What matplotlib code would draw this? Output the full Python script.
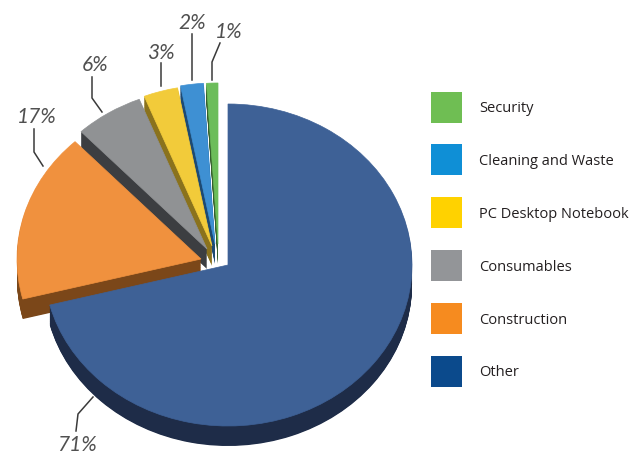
import numpy as np
import matplotlib
matplotlib.use("Agg")
import matplotlib.pyplot as plt
from matplotlib.patches import Wedge, Rectangle

# slices, clockwise from 12 o'clock
slices = ["Other", "Construction", "Consumables", "PC Desktop Notebook",
          "Cleaning and Waste", "Security"]
shares = [71, 17, 6, 3, 2, 1]

# legend, top to bottom
legend_order = ["Security", "Cleaning and Waste", "PC Desktop Notebook",
                "Consumables", "Construction", "Other"]

top_colors = {"Other": "#3e6196", "Construction": "#f0913e", "Consumables": "#909294",
              "PC Desktop Notebook": "#f2cb3a", "Cleaning and Waste": "#3e90d3",
              "Security": "#6cbd5a"}
side_colors = {"Other": "#1e2c48", "Construction": "#7b4719", "Consumables": "#3c3e41",
               "PC Desktop Notebook": "#8a721d", "Cleaning and Waste": "#1d4a73",
               "Security": "#355f2c"}
legend_colors = {"Other": "#0b4a8c", "Construction": "#f68b1f", "Consumables": "#939598",
                 "PC Desktop Notebook": "#ffd200", "Cleaning and Waste": "#0f8fd6",
                 "Security": "#6fbe53"}

W, H = 630, 457
CX, CY = 228, 265      # pie centre in px
RX, RY = 184, 161      # ellipse radii in px
DEPTH = 20             # thickness in px
# how far each slice is pulled out (px, right / down)
pull = {"Other": (0, 0), "Construction": (-27, -6), "Consumables": (-21, -16),
        "PC Desktop Notebook": (-16, -19), "Cleaning and Waste": (-13, -21),
        "Security": (-10, -21)}

fig = plt.figure(figsize=(W / 100, H / 100), dpi=100)
ax = fig.add_axes([0, 0, 1, 1])
ax.set_xlim(-CX / RX, (W - CX) / RX)
ax.set_ylim((CY - H) / RY, CY / RY)
ax.axis("off")


def px(x, y):
    return x / W, 1 - y / H


ends = 90 - 3.6 * np.cumsum(shares)
starts = ends + 3.6 * np.array(shares)

# side walls: stack of dark wedges moved down
for d in np.linspace(DEPTH, 1, 30):
    for name, t1, t2 in zip(slices, ends, starts):
        dx, dy = pull[name]
        c = (dx / RX, -(dy + d) / RY)
        ax.add_patch(Wedge(c, 1, t1, t2, facecolor=side_colors[name], edgecolor="none"))

# top faces
for name, t1, t2 in zip(slices, ends, starts):
    dx, dy = pull[name]
    c = (dx / RX, -dy / RY)
    ax.add_patch(Wedge(c, 1, t1, t2, facecolor=top_colors[name],
                       edgecolor=top_colors[name], linewidth=0.5))

# percentage labels with leader lines (px)
label_text = {"Other": (77, 445), "Construction": (37, 117), "Consumables": (95, 65),
              "PC Desktop Notebook": (161, 53), "Cleaning and Waste": (192, 23),
              "Security": (229, 32)}
leaders = {"Other": [(76, 431), (78, 414), (93, 397)],
           "Construction": [(34, 129), (34, 152), (43, 166)],
           "Consumables": [(92, 77), (92, 98), (102, 112)],
           "PC Desktop Notebook": [(161, 63), (161, 86)],
           "Cleaning and Waste": [(192, 34), (192, 80)],
           "Security": [(220, 43), (212, 62), (212, 80)]}
for name, v in zip(slices, shares):
    pts = [px(*p) for p in leaders[name]]
    ax.plot([p[0] for p in pts], [p[1] for p in pts], color="#3a3a3a", lw=1.1,
            transform=ax.transAxes)
    tx, ty = px(*label_text[name])
    ax.text(tx, ty, f"{v}%", transform=ax.transAxes, ha="center", va="center",
            fontsize=15, fontstyle="italic", fontweight="normal", family="Lato",
            color="#505050")

# legend
for i, name in enumerate(legend_order):
    yc = 107 + i * 52.8
    x0, y0 = px(431, yc + 15.5)
    ax.add_patch(Rectangle((x0, y0), 31 / W, 31 / H, transform=ax.transAxes,
                           facecolor=legend_colors[name], edgecolor="none"))
    tx, ty = px(479, yc + 2)
    ax.text(tx, ty, name, transform=ax.transAxes, ha="left", va="center",
            fontsize=10.5, family="Open Sans", color="#231f20")

fig.savefig("out.png", dpi=100, facecolor="white")
